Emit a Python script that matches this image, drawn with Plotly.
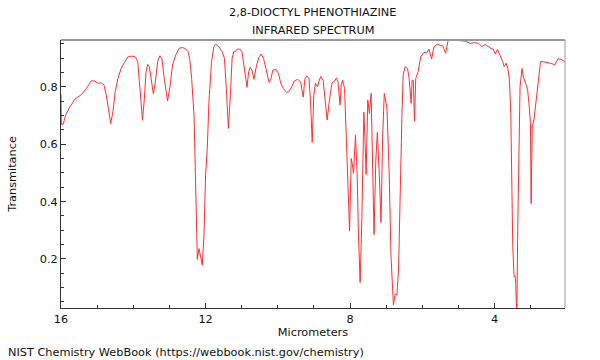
import plotly.graph_objects as go

title_lines = ["2,8-DIOCTYL PHENOTHIAZINE", "INFRARED SPECTRUM"]
x_label = "Micrometers"
y_label = "Transmitance"
footer = "NIST Chemistry WebBook (https://webbook.nist.gov/chemistry)"

wavelength_um = [
    16.0, 15.99, 15.937, 15.874, 15.753, 15.615, 15.434, 15.297, 15.159, 15.066,
    14.975, 14.885, 14.810, 14.747, 14.681, 14.626, 14.563, 14.500, 14.426, 14.335,
    14.242, 14.151, 14.041, 13.940, 13.876, 13.830, 13.786, 13.747, 13.692, 13.648,
    13.602, 13.555, 13.492, 13.445, 13.390, 13.327, 13.264, 13.209, 13.143, 13.052,
    12.978, 12.915, 12.824, 12.731, 12.640, 12.549, 12.489, 12.440, 12.385, 12.319,
    12.275, 12.228, 12.181, 12.137, 12.091, 12.044, 12.000, 11.953, 11.907, 11.835,
    11.769, 11.725, 11.632, 11.541, 11.478, 11.431, 11.368, 11.313, 11.266, 11.220,
    11.176, 11.129, 11.038, 10.992, 10.918, 10.854, 10.808, 10.764, 10.717, 10.662,
    10.607, 10.533, 10.462, 10.396, 10.332, 10.242, 10.187, 10.140, 10.058, 9.984,
    9.920, 9.846, 9.756, 9.692, 9.618, 9.544, 9.453, 9.371, 9.324, 9.297,
    9.253, 9.198, 9.137, 9.096, 9.049, 9.005, 8.959, 8.904, 8.868, 8.813,
    8.747, 8.703, 8.637, 8.566, 8.500, 8.429, 8.382, 8.335, 8.280, 8.245,
    8.209, 8.154, 8.107, 8.060, 8.016, 7.970, 7.942, 7.907, 7.852, 7.805,
    7.769, 7.723, 7.676, 7.621, 7.593, 7.558, 7.511, 7.467, 7.420, 7.385,
    7.338, 7.291, 7.247, 7.192, 7.146, 7.099, 7.055, 6.981, 6.918, 6.871,
    6.824, 6.802, 6.753, 6.706, 6.659, 6.624, 6.569, 6.533, 6.478, 6.412,
    6.368, 6.313, 6.286, 6.253, 6.220, 6.184, 6.121, 6.047, 5.956, 5.882,
    5.819, 5.745, 5.681, 5.588, 5.497, 5.434, 5.360, 5.286, 5.176, 5.003,
    4.810, 4.673, 4.563, 4.445, 4.352, 4.261, 4.179, 4.110, 4.041, 3.986,
    3.923, 3.849, 3.775, 3.739, 3.684, 3.637, 3.593, 3.555, 3.527, 3.500,
    3.464, 3.437, 3.418, 3.390, 3.363, 3.327, 3.299, 3.245, 3.209, 3.143,
    3.088, 3.044, 3.011, 2.992, 2.962, 2.915, 2.860, 2.797, 2.731, 2.659,
    2.522, 2.420, 2.338, 2.247, 2.154, 2.063, 2.04,
]

transmittance = [
    0.773, 0.669, 0.670, 0.701, 0.730, 0.757, 0.773, 0.794, 0.821, 0.820,
    0.812, 0.814, 0.806, 0.771, 0.719, 0.672, 0.713, 0.783, 0.829, 0.864,
    0.885, 0.904, 0.907, 0.904, 0.887, 0.829, 0.748, 0.683, 0.760, 0.852,
    0.878, 0.870, 0.806, 0.776, 0.817, 0.887, 0.908, 0.899, 0.829, 0.751,
    0.806, 0.876, 0.911, 0.934, 0.937, 0.932, 0.923, 0.899, 0.829, 0.701,
    0.457, 0.199, 0.236, 0.213, 0.178, 0.283, 0.492, 0.585, 0.748, 0.887,
    0.940, 0.948, 0.940, 0.922, 0.899, 0.806, 0.655, 0.771, 0.899, 0.922,
    0.922, 0.931, 0.931, 0.922, 0.852, 0.798, 0.852, 0.868, 0.858, 0.826,
    0.864, 0.901, 0.914, 0.899, 0.864, 0.815, 0.829, 0.858, 0.861, 0.847,
    0.812, 0.794, 0.780, 0.783, 0.800, 0.820, 0.826, 0.817, 0.783, 0.764,
    0.827, 0.838, 0.829, 0.748, 0.606, 0.771, 0.812, 0.800, 0.817, 0.836,
    0.823, 0.760, 0.684, 0.760, 0.814, 0.820, 0.831, 0.817, 0.736, 0.806,
    0.823, 0.794, 0.655, 0.457, 0.297, 0.550, 0.533, 0.498, 0.632, 0.492,
    0.283, 0.118, 0.341, 0.711, 0.632, 0.494, 0.754, 0.707, 0.777, 0.573,
    0.285, 0.538, 0.641, 0.492, 0.327, 0.632, 0.777, 0.726, 0.492, 0.213,
    0.068, 0.040, 0.079, 0.073, 0.168, 0.399, 0.690, 0.841, 0.870, 0.864,
    0.829, 0.742, 0.823, 0.823, 0.680, 0.829, 0.852, 0.905, 0.920, 0.918,
    0.931, 0.897, 0.940, 0.948, 0.945, 0.942, 0.917, 0.963, 0.963, 0.961,
    0.959, 0.951, 0.954, 0.951, 0.940, 0.948, 0.940, 0.934, 0.931, 0.914,
    0.930, 0.911, 0.887, 0.870, 0.882, 0.864, 0.823, 0.707, 0.475, 0.242,
    0.137, 0.140, 0.115, -0.014, 0.300, 0.649, 0.800, 0.864, 0.835, 0.812,
    0.788, 0.730, 0.672, 0.393, 0.660, 0.684, 0.742, 0.812, 0.888, 0.887,
    0.884, 0.881, 0.876, 0.898, 0.895, 0.890, 0.886,
]

assert len(wavelength_um) == len(transmittance)

x_range = [16, 2.055]
y_range = [0.029, 0.963]
x_ticks = [16, 12, 8, 4]
y_ticks = [0.2, 0.4, 0.6, 0.8]

FONT = "DejaVu Sans"
FS = 11.3
TXT = "#111111"
W, H = 600, 360
ML, MR, MT, MB = 58, 35, 40, 52
PW, PH = W - ML - MR, H - MT - MB


def px_to_paper_x(px):
    return (px - ML) / PW


def px_to_paper_y(py):
    return (H - MB - py) / PH


fig = go.Figure()
fig.add_trace(go.Scatter(
    x=wavelength_um, y=transmittance, mode="lines",
    line=dict(color="#ff3030", width=1),
    hoverinfo="skip", showlegend=False,
))

annotations = [
    dict(text=title_lines[0], xref="paper", yref="paper",
         x=px_to_paper_x(311), y=px_to_paper_y(13), xanchor="center", yanchor="middle",
         showarrow=False, font=dict(family=FONT, size=FS, color=TXT)),
    dict(text=title_lines[1], xref="paper", yref="paper",
         x=px_to_paper_x(311), y=px_to_paper_y(30), xanchor="center", yanchor="middle",
         showarrow=False, font=dict(family=FONT, size=FS, color=TXT)),
    dict(text=footer, xref="paper", yref="paper",
         x=px_to_paper_x(3), y=px_to_paper_y(352),
         xanchor="left", yanchor="middle", showarrow=False,
         font=dict(family=FONT, size=FS, color=TXT)),
]

fig.update_layout(
    width=W, height=H,
    margin=dict(l=ML, r=MR, t=MT, b=MB),
    paper_bgcolor="white", plot_bgcolor="white",
    font=dict(family=FONT, size=FS, color=TXT),
    xaxis=dict(
        range=x_range, tickvals=x_ticks, ticktext=[str(v) for v in x_ticks],
        ticks="inside", ticklen=5, tickwidth=1, tickcolor="#333333",
        minor=dict(dtick=1, tick0=0, ticks="inside", ticklen=3, tickcolor="#333333", showgrid=False),
        showgrid=False, zeroline=False,
        showline=True, linecolor="#333333", linewidth=1,
        title=dict(text=x_label, standoff=3, font=dict(size=FS)),
        tickfont=dict(size=FS),
    ),
    yaxis=dict(
        range=y_range, tickvals=y_ticks, ticktext=["%.1f" % v for v in y_ticks],
        ticks="inside", ticklen=5, tickwidth=1, tickcolor="#333333",
        minor=dict(dtick=0.05, tick0=0, ticks="inside", ticklen=3, tickcolor="#333333", showgrid=False),
        showgrid=False, zeroline=False,
        showline=True, linecolor="#333333", linewidth=1,
        title=dict(text=y_label, standoff=20, font=dict(size=FS)),
        tickfont=dict(size=FS),
    ),
    shapes=[
        dict(type="line", xref="paper", yref="paper", x0=0, x1=1, y0=1, y1=1,
             line=dict(color="#999999", width=2), layer="above"),
        dict(type="line", xref="paper", yref="paper", x0=1, x1=1, y0=0, y1=1,
             line=dict(color="#999999", width=1), layer="above"),
    ],
    annotations=annotations,
)

fig.write_html(
    "out.html",
    config={"displayModeBar": False},
    post_script="document.body.style.margin='0';document.body.style.overflow='hidden';",
)
